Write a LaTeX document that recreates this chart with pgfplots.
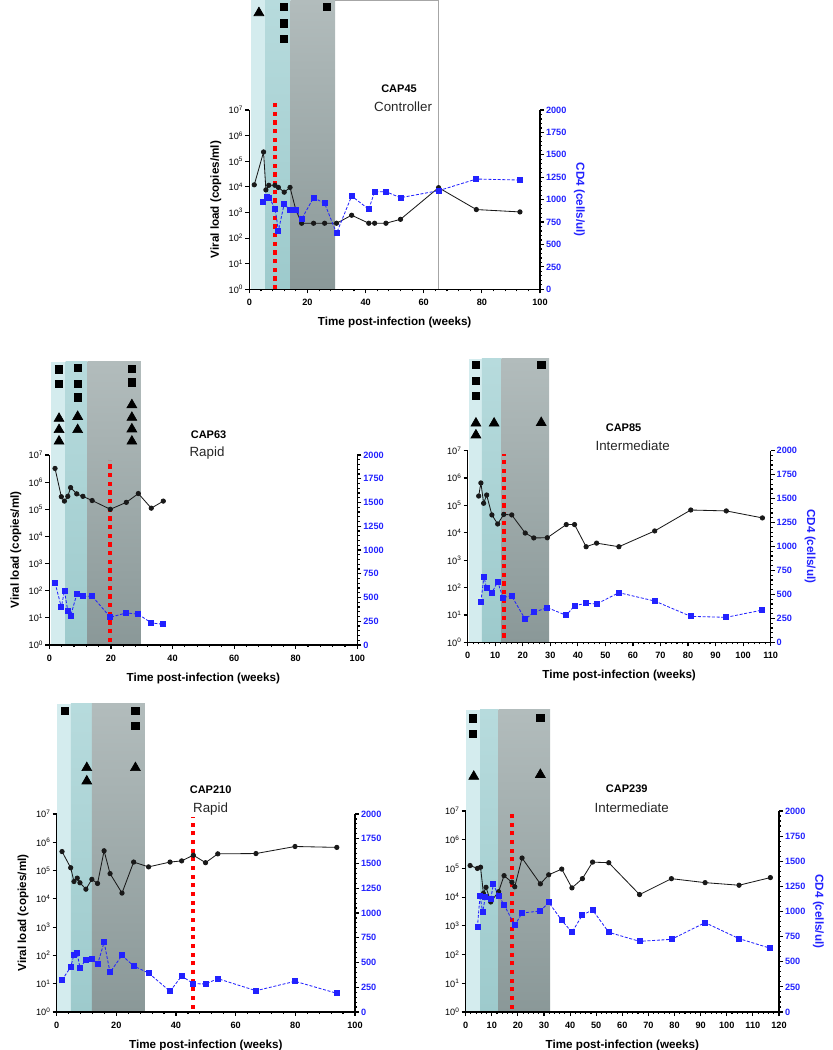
\documentclass[border=0pt]{standalone}
\usepackage{pgfplots}
\pgfplotsset{compat=1.18}
\usepackage{fontspec}
\setmainfont{Liberation Sans}
\definecolor{lcy}{HTML}{D4ECEE}
\definecolor{mteT}{HTML}{B7DBDD}
\definecolor{mteB}{HTML}{9DCACC}
\definecolor{dgrT}{HTML}{B2BCBC}
\definecolor{dgrB}{HTML}{8A9898}
\definecolor{cdb}{HTML}{2222FF}
\newcommand{\tkf}{\fontsize{5.5}{6}\selectfont}
\newcommand{\lbf}{\fontsize{7}{8}\selectfont\bfseries}
\newcommand{\capf}{\fontsize{6.6}{7}\selectfont\bfseries}
\newcommand{\typf}{\fontsize{8}{9}\selectfont}
\newcommand{\sps}[1]{10\textsuperscript{#1}}
\tikzset{
  myvlp/.style={black!90, line width=0.5pt, mark=*, mark size=1.3pt},
  mycdp/.style={cdb, line width=0.5pt, dash pattern=on 1.8pt off 1pt, mark=square*, mark size=1.5pt, mark options={solid}},
  myredl/.style={red, line width=2.4pt, dash pattern=on 2.5pt off 2.7pt},
  mysq/.style={mark=square*, mark size=2.2pt, black},
  mytri/.style={mark=triangle*, mark size=3.4pt, black},
  mylt/.style={fill=lcy},
  mymd/.style={top color=mteT, bottom color=mteB, draw=none},
  mydk/.style={top color=dgrT, bottom color=dgrB, draw=none},
}
\pgfplotsset{
  every tick/.style={black, line width=0.7pt},
  tick align=outside, major tick length=2.4pt, minor tick length=1.3pt,
  axis line style={line width=0.9pt},
  scaled ticks=false,
  xticklabel style={font=\tkf\bfseries},
  xlabel style={font=\lbf},
  ylabel style={font=\lbf},
  /pgf/number format/assume math mode=true,
  /pgf/number format/1000 sep={},
}
\begin{document}
\begin{tikzpicture}
\useasboundingbox (0,0) rectangle (499.8pt,630pt);
% ================= CAP45 =================
\begin{semilogyaxis}[at={(149.6pt,456.4pt)}, anchor=south west, scale only axis,
  width=174.4pt, height=107.6pt, xmin=0, xmax=100, ymin=1, ymax=1e7,
  clip=false, axis on top, axis x line*=bottom, axis y line*=left,
  ytick={1,10,100,1000,10000,100000,1000000,10000000},
  yticklabels={\sps{0},\sps{1},\sps{2},\sps{3},\sps{4},\sps{5},\sps{6},\sps{7}},
  yticklabel style={font=\tkf, inner sep=1pt},
  yminorticks=false, minor x tick num=4,
  xlabel={Time post-infection (weeks)}, ylabel={Viral load (copies/ml)}]
\fill[mylt] (axis cs:0.45,1) rectangle (axis cs:5.4,1.9e11);
\shade[mymd] (axis cs:5.4,1) rectangle (axis cs:14.2,1.9e11);
\shade[mydk] (axis cs:14.2,1) rectangle (axis cs:29.5,1.9e11);
\draw[gray!70, line width=0.6pt] (axis cs:29.5,1.9e11) -- (axis cs:65,1.9e11) -- (axis cs:65,1);
\addplot[myredl] coordinates {(8.8,1) (8.8,2.7e7)};
\addplot[myvlp] coordinates {(1.7,1.2e4) (4.9,2.3e5) (5.7,7.6e3) (6.7,1.15e4) (8.8,1.15e4) (10.0,9.5e3) (12.0,6.2e3) (14.0,9.5e3) (16.0,1.26e3) (18.0,3.8e2) (22.1,3.8e2) (25.9,3.8e2) (30.0,3.8e2) (35.2,7.8e2) (41.1,3.8e2) (43.1,3.8e2) (47.0,3.8e2) (52.0,5.4e2) (65.1,9.3e3) (78.1,1.3e3) (93.1,1.05e3)};
\addplot[only marks, mytri] coordinates {(3.3,6.2e10)};
\addplot[only marks, mysq] coordinates {(11.9,1.07e11) (11.9,2.4e10) (11.9,5.9e9) (26.6,1.07e11)};
\node[font=\capf] at (axis cs:51.5,6.6e7) {CAP45};
\node[font=\typf, text=black!85] at (axis cs:52.9,1.3e7) {Controller};
\end{semilogyaxis}
\begin{axis}[at={(149.6pt,456.4pt)}, anchor=south west, scale only axis,
  width=174.4pt, height=107.6pt, xmin=0, xmax=100, ymin=0, ymax=2000,
  axis x line=none, axis y line*=right,
  ytick={0,250,...,2000}, minor y tick num=4,
  yticklabel style={font=\tkf\bfseries, text=cdb, inner sep=1pt},
  ylabel style={text=cdb, rotate=180}, ylabel={CD4 (cells/ul)}]
\addplot[mycdp] coordinates {(4.7,970) (6.0,1033) (6.9,1022) (8.9,892) (10.0,654) (12.0,952) (14.0,881) (16.0,888) (18.0,784) (22.1,1022) (25.9,959) (30.0,625) (35.2,1041) (41.1,892) (43.1,1089) (47.0,1089) (52.0,1022) (65.1,1100) (78.1,1230) (93.1,1219)};
\end{axis}
% ================= CAP63 =================
\begin{semilogyaxis}[at={(29.6pt,243pt)}, anchor=south west, scale only axis,
  width=184.8pt, height=114pt, xmin=0, xmax=100, ymin=1, ymax=1e7,
  clip=false, axis on top, axis x line*=bottom, axis y line*=left,
  ytick={1,10,100,1000,10000,100000,1000000,10000000},
  yticklabels={\sps{0},\sps{1},\sps{2},\sps{3},\sps{4},\sps{5},\sps{6},\sps{7}},
  yticklabel style={font=\tkf, inner sep=1pt},
  yminorticks=false, minor x tick num=4,
  xlabel={Time post-infection (weeks)}, ylabel={Viral load (copies/ml)}]
\fill[mylt] (axis cs:0.4,1) rectangle (axis cs:5.3,2.7e10);
\shade[mymd] (axis cs:5.3,1) rectangle (axis cs:12.4,2.7e10);
\shade[mydk] (axis cs:12.4,1) rectangle (axis cs:29.7,2.7e10);
\addplot[myredl] coordinates {(19.8,1.3) (19.8,6.6e6)};
\addplot[myvlp] coordinates {(1.85,3.2e6) (3.9,2.9e5) (4.9,2.0e5) (6.0,3.0e5) (6.9,6.3e5) (8.9,3.7e5) (10.9,3.0e5) (13.9,2.1e5) (19.8,1.0e5) (25.0,1.8e5) (28.9,3.8e5) (33.1,1.1e5) (37.0,2.0e5)};
\addplot[only marks, mysq] coordinates {(3.15,1.45e10) (3.15,4.3e9) (9.2,1.6e10) (9.2,4.3e9) (9.2,1.35e9) (26.8,1.5e10) (26.8,4.7e9)};
\addplot[only marks, mytri] coordinates {(3.15,2.2e8) (3.15,0.85e8) (3.15,3.2e7) (9.2,2.6e8) (9.2,0.85e8) (26.8,7.0e8) (26.8,2.4e8) (26.8,0.9e8) (26.8,3.2e7)};
\node[font=\capf] at (axis cs:51.7,5.5e7) {CAP63};
\node[font=\typf, text=black!85] at (axis cs:51.2,1.2e7) {Rapid};
\end{semilogyaxis}
\begin{axis}[at={(29.6pt,243pt)}, anchor=south west, scale only axis,
  width=184.8pt, height=114pt, xmin=0, xmax=100, ymin=0, ymax=2000,
  axis x line=none, axis y line*=right,
  ytick={0,250,...,2000}, minor y tick num=4,
  yticklabel style={font=\tkf\bfseries, text=cdb, inner sep=1pt}]
\addplot[mycdp] coordinates {(1.85,655) (3.9,398) (4.9,570) (6.0,359) (6.9,303) (8.9,535) (10.9,514) (13.9,514) (19.8,292) (25.0,338) (28.9,324) (33.1,232) (37.0,218)};
\end{axis}
% ================= CAP85 =================
\begin{semilogyaxis}[at={(280.6pt,244.6pt)}, anchor=south west, scale only axis,
  width=181.8pt, height=115pt, xmin=0, xmax=110, xtick={0,10,...,110}, ymin=1, ymax=1e7,
  clip=false, axis on top, axis x line*=bottom, axis y line*=left,
  ytick={1,10,100,1000,10000,100000,1000000,10000000},
  yticklabels={\sps{0},\sps{1},\sps{2},\sps{3},\sps{4},\sps{5},\sps{6},\sps{7}},
  yticklabel style={font=\tkf, inner sep=1pt},
  yminorticks=false, minor x tick num=4,
  xlabel={Time post-infection (weeks)}]
\fill[mylt] (axis cs:0.4,1) rectangle (axis cs:5.2,2.3e10);
\shade[mymd] (axis cs:5.2,1) rectangle (axis cs:12.3,2.3e10);
\shade[mydk] (axis cs:12.3,1) rectangle (axis cs:29.6,2.3e10);
\addplot[myredl] coordinates {(13.1,1.5) (13.1,7.4e6)};
\addplot[myvlp] coordinates {(4.0,2.2e5) (4.8,6.6e5) (5.8,1.2e5) (6.9,2.4e5) (8.8,4.5e4) (10.9,2.1e4) (13.1,4.7e4) (16.0,4.5e4) (20.9,9.8e3) (24.0,6.5e3) (28.9,6.6e3) (35.8,2.0e4) (38.8,2.0e4) (43.0,3.1e3) (46.8,4.2e3) (54.9,3.1e3) (67.9,1.17e4) (81.0,6.8e4) (93.9,6.3e4) (107.0,3.5e4)};
\addplot[only marks, mysq] coordinates {(3.0,1.35e10) (3.0,3.6e9) (3.0,1.0e9) (26.7,1.35e10)};
\addplot[only marks, mytri] coordinates {(3.0,1.0e8) (3.0,3.7e7) (9.6,1.0e8) (26.7,1.05e8)};
\node[font=\capf] at (axis cs:56.6,6.9e7) {CAP85};
\node[font=\typf, text=black!85] at (axis cs:59.9,1.5e7) {Intermediate};
\end{semilogyaxis}
\begin{axis}[at={(280.6pt,244.6pt)}, anchor=south west, scale only axis,
  width=181.8pt, height=115pt, xmin=0, xmax=110, ymin=0, ymax=2000,
  axis x line=none, axis y line*=right,
  ytick={0,250,...,2000}, minor y tick num=4,
  yticklabel style={font=\tkf\bfseries, text=cdb, inner sep=1pt},
  ylabel style={text=cdb, rotate=180}, ylabel={CD4 (cells/ul)}]
\addplot[mycdp] coordinates {(4.8,421) (5.9,685) (6.9,563) (8.8,518) (10.9,633) (12.8,466) (15.9,487) (20.9,240) (24.0,313) (28.9,362) (35.8,282) (38.8,383) (43.0,407) (46.8,400) (54.9,518) (67.9,431) (81.0,271) (93.9,261) (107.0,337)};
\end{axis}
% ================= CAP210 =================
\begin{semilogyaxis}[at={(34pt,22.8pt)}, anchor=south west, scale only axis,
  width=179pt, height=118.8pt, xmin=0, xmax=100, ymin=1, ymax=1e7,
  clip=false, axis on top, axis x line*=bottom, axis y line*=left,
  ytick={1,10,100,1000,10000,100000,1000000,10000000},
  yticklabels={\sps{0},\sps{1},\sps{2},\sps{3},\sps{4},\sps{5},\sps{6},\sps{7}},
  yticklabel style={font=\tkf, inner sep=1pt},
  yminorticks=false, minor x tick num=4,
  xlabel={Time post-infection (weeks)}, ylabel={Viral load (copies/ml)}]
\fill[mylt] (axis cs:0.2,1) rectangle (axis cs:4.8,7.8e10);
\shade[mymd] (axis cs:4.8,1) rectangle (axis cs:11.8,7.8e10);
\shade[mydk] (axis cs:11.8,1) rectangle (axis cs:29.6,7.8e10);
\addplot[myredl] coordinates {(45.8,1.3) (45.8,7.6e6)};
\addplot[myvlp] coordinates {(1.8,4.7e5) (4.7,1.26e5) (5.8,4.1e4) (6.9,5.4e4) (7.8,3.7e4) (9.8,2.2e4) (11.8,4.9e4) (13.7,3.5e4) (15.9,5.0e5) (17.9,7.8e4) (21.9,1.6e4) (25.8,2.0e5) (30.8,1.35e5) (38.0,2.0e5) (41.9,2.2e5) (45.8,3.5e5) (49.9,1.9e5) (54.0,3.9e5) (66.8,4.0e5) (79.9,7.1e5) (93.9,6.6e5)};
\addplot[only marks, mysq] coordinates {(2.8,4.4e10) (26.4,4.4e10) (26.4,1.3e10)};
\addplot[only marks, mytri] coordinates {(10.1,4.3e8) (10.1,1.45e8) (26.4,4.3e8)};
\node[font=\capf] at (axis cs:51.6,7.1e7) {CAP210};
\node[font=\typf, text=black!85] at (axis cs:51.6,1.45e7) {Rapid};
\end{semilogyaxis}
\begin{axis}[at={(34pt,22.8pt)}, anchor=south west, scale only axis,
  width=179pt, height=118.8pt, xmin=0, xmax=100, ymin=0, ymax=2000,
  axis x line=none, axis y line*=right,
  ytick={0,250,...,2000}, minor y tick num=4,
  yticklabel style={font=\tkf\bfseries, text=cdb, inner sep=1pt}]
\addplot[mycdp] coordinates {(1.8,323) (4.7,455) (5.8,579) (6.9,593) (7.8,448) (9.8,525) (11.8,539) (13.7,481) (15.9,704) (17.9,401) (21.9,572) (25.8,465) (30.8,394) (38.0,209) (41.9,364) (45.8,286) (49.9,283) (54.0,337) (66.8,215) (79.9,310) (93.9,189)};
\end{axis}
% ================= CAP239 =================
\begin{semilogyaxis}[at={(279.4pt,22.8pt)}, anchor=south west, scale only axis,
  width=188pt, height=120.6pt, xmin=0, xmax=120, xtick={0,10,...,120}, ymin=1, ymax=1e7,
  clip=false, axis on top, axis x line*=bottom, axis y line*=left,
  ytick={1,10,100,1000,10000,100000,1000000,10000000},
  yticklabels={\sps{0},\sps{1},\sps{2},\sps{3},\sps{4},\sps{5},\sps{6},\sps{7}},
  yticklabel style={font=\tkf, inner sep=1pt},
  yminorticks=false, minor x tick num=4,
  xlabel={Time post-infection (weeks)}]
\fill[mylt] (axis cs:0,1) rectangle (axis cs:5.5,3.3e10);
\shade[mymd] (axis cs:5.5,1) rectangle (axis cs:12.6,3.3e10);
\shade[mydk] (axis cs:12.6,1) rectangle (axis cs:32.3,3.3e10);
\addplot[myredl] coordinates {(17.9,1.3) (17.9,8.7e6)};
\addplot[myvlp] coordinates {(1.7,1.26e5) (4.5,1.0e5) (5.7,1.1e5) (6.8,1.35e4) (7.8,2.2e4) (9.6,6.8e3) (12.6,1.55e4) (14.7,5.6e4) (17.7,3.3e4) (18.8,2.3e4) (21.6,2.3e5) (28.6,2.9e4) (31.8,6.0e4) (36.8,9.5e4) (40.7,2.1e4) (44.7,4.4e4) (48.6,1.66e5) (54.8,1.58e5) (66.6,1.23e4) (78.8,4.4e4) (91.7,3.2e4) (104.7,2.6e4) (116.7,4.8e4)};
\addplot[only marks, mysq] coordinates {(2.7,1.7e10) (2.7,5.0e9) (28.6,1.8e10)};
\addplot[only marks, mytri] coordinates {(3.1,1.6e8) (28.6,1.85e8)};
\node[font=\capf] at (axis cs:61.7,6.0e7) {CAP239};
\node[font=\typf, text=black!85] at (axis cs:63.6,1.35e7) {Intermediate};
\end{semilogyaxis}
\begin{axis}[at={(279.4pt,22.8pt)}, anchor=south west, scale only axis,
  width=188pt, height=120.6pt, xmin=0, xmax=120, ymin=0, ymax=2000,
  axis x line=none, axis y line*=right,
  ytick={0,250,...,2000}, minor y tick num=4,
  yticklabel style={font=\tkf\bfseries, text=cdb, inner sep=1pt},
  ylabel style={text=cdb, rotate=180}, ylabel={CD4 (cells/ul)}]
\addplot[mycdp] coordinates {(4.5,843) (5.5,1158) (6.5,992) (7.5,1141) (9.6,1124) (10.6,1270) (12.6,1158) (14.7,1068) (18.8,862) (21.6,985) (28.6,1005) (31.8,1091) (36.8,912) (40.7,793) (44.7,965) (48.6,1015) (54.8,793) (66.6,703) (78.8,723) (91.7,889) (104.7,730) (116.7,634)};
\end{axis}
\end{tikzpicture}
\end{document}
